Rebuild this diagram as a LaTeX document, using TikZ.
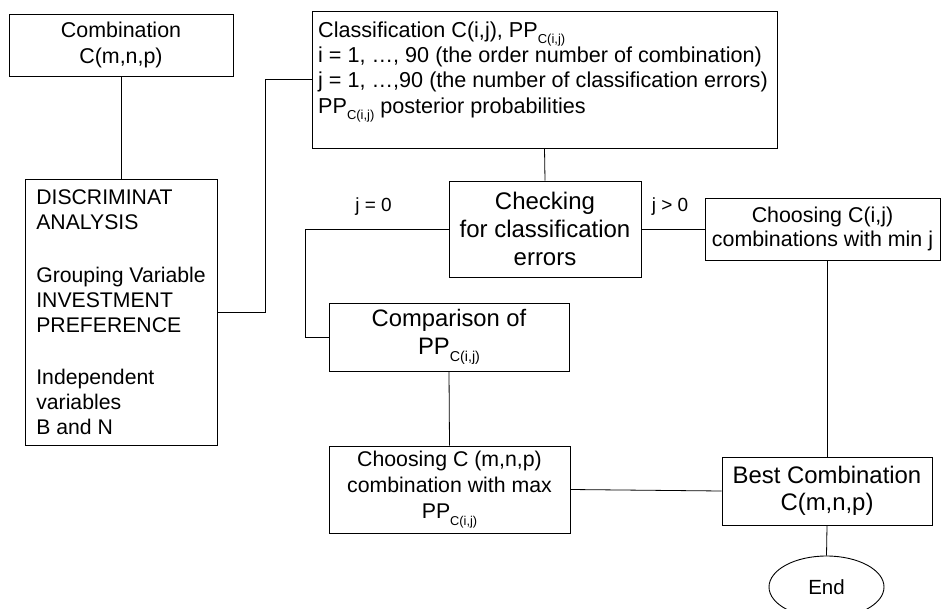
\documentclass[tikz,border=0pt]{standalone}
\usepackage{fontspec}
\setmainfont{Liberation Sans}
\usepackage{graphicx}
\usetikzlibrary{shapes.geometric}
\newcommand\fs[2]{\fontsize{#1}{#2}\selectfont}
\newcommand\ppsub{PP\raisebox{-0.3em}{\scalebox{0.6}{C(i,j)}}}
\begin{document}
\begin{tikzpicture}[x=1pt,y=-1pt,
  box/.style={draw, line width=0.9pt, inner sep=0pt, align=center},
  conn/.style={line width=0.8pt},
  lbl/.style={inner sep=0pt, font=\fs{19}{22}}]
\useasboundingbox (0,0) rectangle (941,609);
\fill[white] (0,0) rectangle (941,609);

\node[box, minimum width=224, minimum height=62, font=\fs{21.4}{26}] (comb) at (121,45) {Combination\\C(m,n,p)};

\node[box, align=left, minimum width=192, minimum height=266, font=\fs{21.2}{25}] (disc) at (121,312)
  {DISCRIMINAT\\ANALYSIS\\[28pt]Grouping Variable\\INVESTMENT\\PREFERENCE\\[27pt]Independent\\variables\\B and N};

\node[box, minimum width=465, minimum height=137] (cls) at (544.5,79.5) {};
\node[anchor=north west, inner sep=0pt, align=left, font=\fs{21.6}{25.3}] (clstxt) at (318,21.3)
  {Classification C(i,j), \ppsub\\i = 1, …, 90 (the order number of combination)\\j = 1, …,90 (the number of classification errors)\\\ppsub{} posterior probabilities};

\node[box, minimum width=192, minimum height=96, font=\fs{24}{28}] (chk) at (545,229) {Checking\\for classification\\errors};

\node[box, minimum width=235, minimum height=62, font=\fs{21.4}{23.5}] (ch1) at (822.5,229) {Choosing C(i,j)\\combinations with min j};

\node[box, minimum width=240, minimum height=68, font=\fs{23.8}{27.5}] (cmp) at (449,337) {Comparison of\\\ppsub};

\node[box, minimum width=241, minimum height=87, font=\fs{21.3}{26}] (chm) at (449.5,489.5) {Choosing C (m,n,p)\\combination with max\\\ppsub};

\node[box, minimum width=210, minimum height=68, font=\fs{23.9}{26.5}] (best) at (827,491) {Best Combination\\C(m,n,p)};

\node[box, ellipse, minimum width=115, minimum height=62, font=\fs{20.5}{24}] (end) at (826.5,587) {End};

\draw[conn] (comb.south) -- (disc.north);
\draw[conn] (disc.east) -- ++(48,0) |- (cls.west);
\draw[conn] (cls.south) -- (chk.north);
\draw[conn] (chk.west) -- ++(-143,0) coordinate (jz) |- (cmp.west);
\draw[conn] (chk.east) -- (ch1.west);
\draw[conn] (ch1.south -| best.north) -- (best.north);
\draw[conn] (cmp.south) -- (chm.north);
\draw[conn] (chm.east) -- (best.west);
\draw[conn] (best.south) -- (end.north);

\node[lbl] (l0) at (373.5,207) {j = 0};
\node[lbl] (l1) at (670,207) {j > 0};
\end{tikzpicture}
\end{document}
